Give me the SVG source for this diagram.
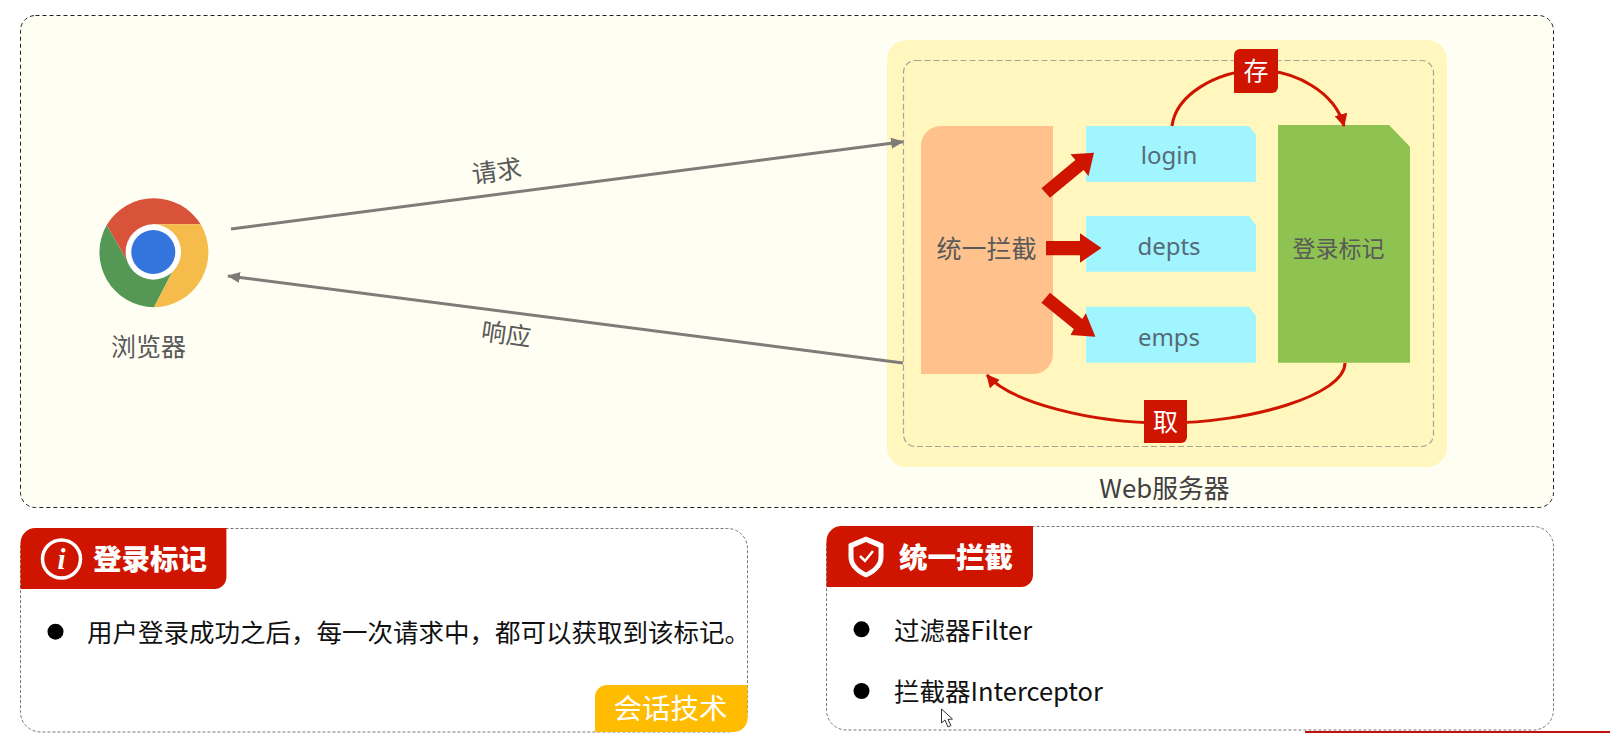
<svg xmlns="http://www.w3.org/2000/svg" width="1610" height="733" viewBox="0 0 1610 733">
<defs>
<marker id="gh" markerUnits="userSpaceOnUse" markerWidth="13" markerHeight="11" refX="12" refY="5.500" orient="auto"><path d="M0 0L13 5.500L0 11z" fill="#7f7c78"/></marker>
<marker id="rh" markerUnits="userSpaceOnUse" markerWidth="13" markerHeight="13" refX="12" refY="6.500" orient="auto"><path d="M0 0L13 6.500L0 13z" fill="#cf1400"/></marker>
</defs>
<style>
text{font-family:"Noto Sans CJK SC","Noto Sans",sans-serif}
.m{text-anchor:middle}
.g{fill:#595959;font-size:25px}
.api{fill:#566a78;font-size:24px;font-family:"Noto Sans","Noto Sans CJK SC",sans-serif}
.bl{fill:#111;font-size:25.500px}
.t{fill:#fff;font-size:28.500px;font-weight:900}
.bd{fill:#fff;font-size:25px}
.red{fill:#cf1400}
.panel{fill:#fff;stroke:#777;stroke-width:1;stroke-dasharray:3 2}
.cyan{fill:#a0f5ff}
.gl{fill:none;stroke:#7f7c78;stroke-width:3}
.rl{fill:none;stroke:#cf1400;stroke-width:3}
</style>
<rect width="1610" height="733" fill="#fff"/>
<g id="outer"><rect x="20.500" y="15.500" width="1533" height="492" rx="15" fill="#fffef2" stroke="#222" stroke-width="1" stroke-dasharray="4 3"/></g>
<g id="web-server">
<rect x="887" y="40" width="560" height="427" rx="20" fill="#fff7bd"/>
<rect x="903.500" y="60.500" width="530" height="386" rx="12" fill="none" stroke="#a8a49a" stroke-width="1.200" stroke-dasharray="6 3"/>
<text class="m" x="1164.500" y="498" font-size="25.800" fill="#404040">Web服务器</text>
</g>
<g id="browser">
<path d="M200.700 224.300A55 55 0 0 0 106.700 225L126.700 260L153 224.300z" fill="#d9533b"/>
<path d="M106.700 225A55 55 0 0 0 154 307.300L171.700 273L126.700 260z" fill="#559855"/>
<path d="M200.700 224.300A55 55 0 0 1 154 307.300L171.700 273L153 224.300z" fill="#f5bc4b"/>
<circle cx="153.300" cy="252" r="27.700" fill="#fff"/>
<circle cx="153.300" cy="252" r="22" fill="#3374dd"/>
<text class="m g" x="148.500" y="356">浏览器</text>
</g>
<g id="intercept">
<path d="M941 126H1053V354a20 20 0 0 1-20 20H921V146a20 20 0 0 1 20-20z" fill="#ffc28d"/>
<text class="m g" x="986.500" y="257.500">统一拦截</text>
</g>
<g id="login"><path class="cyan" d="M1086 126H1249L1256 135V182H1086z"/><text class="m api" x="1169" y="164">login</text></g>
<g id="depts"><path class="cyan" d="M1086 216H1249L1256 225V271.700H1086z"/><text class="m api" x="1169" y="254.500">depts</text></g>
<g id="emps"><path class="cyan" d="M1086 306.700H1249L1256 316V362.700H1086z"/><text class="m api" x="1169" y="345.500">emps</text></g>
<g id="mark">
<path d="M1278 125H1389L1410 146.700V362.700H1278z" fill="#8fc351"/>
<text class="m" x="1338.500" y="257" font-size="23" fill="#595959">登录标记</text>
</g>
<g id="connectors">
<path class="gl" d="M231 229L903 141.700" marker-end="url(#gh)"/>
<path class="gl" d="M903 363L228 276" marker-end="url(#gh)"/>
<text class="m g" transform="translate(498 180) rotate(-8)">请求</text>
<text class="m g" transform="translate(505 343) rotate(8)">响应</text>
<path class="rl" d="M1172 126C1176 95 1215 72 1256 70C1295 70 1335 92 1344 126" marker-end="url(#rh)"/>
<path class="rl" d="M1345 363C1345 395 1250 423 1165 423C1090 423 1010 402 987 375" marker-end="url(#rh)"/>
<polygon class="red" points="1041.400,188.300 1075.400,160.100 1070.500,154.300 1094,152.700 1088.500,176 1083.600,169.900 1050,197.700"/>
<polygon class="red" points="1046,241 1080,241 1080,233.300 1101.500,248 1080,262.700 1080,255.300 1046,255.300"/>
<polygon class="red" points="1050,292.700 1082.300,319 1085.800,313.300 1095.400,336.700 1070.500,335 1073.800,329 1041.400,302.700"/>
</g>
<g id="badge-save">
<path class="red" d="M1240 49H1278V87a6 6 0 0 1-6 6H1234V55a6 6 0 0 1 6-6z"/>
<text class="m bd" x="1256" y="80">存</text>
</g>
<g id="badge-get">
<path class="red" d="M1144 400H1187V437a6 6 0 0 1-6 6H1144z"/>
<text class="m bd" x="1165.500" y="431">取</text>
</g>
<g id="panel-mark">
<rect class="panel" x="20.500" y="528.500" width="727" height="203.500" rx="20"/>
<path class="red" d="M35.500 528H226.400V577a12 12 0 0 1-12 12H20.500V543a15 15 0 0 1 15-15z"/>
<circle cx="61.500" cy="559" r="19" fill="none" stroke="#fff" stroke-width="3.500"/>
<text class="m" x="61.500" y="569" font-size="29" font-weight="700" font-style="italic" fill="#fff" style="font-family:'Liberation Serif',serif">i</text>
<text class="t" x="93" y="570">登录标记</text>
<circle cx="55.500" cy="631.700" r="8" fill="#000"/>
<text class="bl" x="87" y="642">用户登录成功之后，每一次请求中，都可以获取到该标记。</text>
<path d="M607 685H747.500V718a14 14 0 0 1-14 14H595V697a12 12 0 0 1 12-12z" fill="#ffbc00"/>
<text class="m" x="670.500" y="718.500" font-size="28.500" fill="#fff">会话技术</text>
</g>
<g id="panel-intercept">
<rect class="panel" x="826.500" y="526.500" width="727" height="203.500" rx="20"/>
<path class="red" d="M841.500 526H1033V575a12 12 0 0 1-12 12H826.500V541a15 15 0 0 1 15-15z"/>
<path d="M866 537L883 544V557C883 566 876 573 866 577C856 573 849 566 849 557V544z" fill="#fff" stroke="#fff" stroke-width="1"/>
<path d="M866 542L878.500 547.500V557C878.500 564 873 569 866 572.500C859 569 853.500 564 853.500 557V547.500z" fill="#cf1400"/>
<path d="M860 556L865 561L873 551" fill="none" stroke="#fff" stroke-width="2.500"/>
<text class="t" x="899" y="567.500">统一拦截</text>
<circle cx="861.500" cy="629.300" r="8" fill="#000"/>
<text class="bl" x="894" y="639.500">过滤器Filter</text>
<circle cx="861.500" cy="691" r="8" fill="#000"/>
<text class="bl" x="894" y="700.500">拦截器Interceptor</text>
</g>
<g id="cursor"><path d="M941.500 709V723L945 720L948 727L951 725.500L948 719.500L952.500 719z" fill="#fff" stroke="#333" stroke-width="1"/></g>
<rect x="1305" y="731" width="305" height="2" fill="#c01010"/>
</svg>
